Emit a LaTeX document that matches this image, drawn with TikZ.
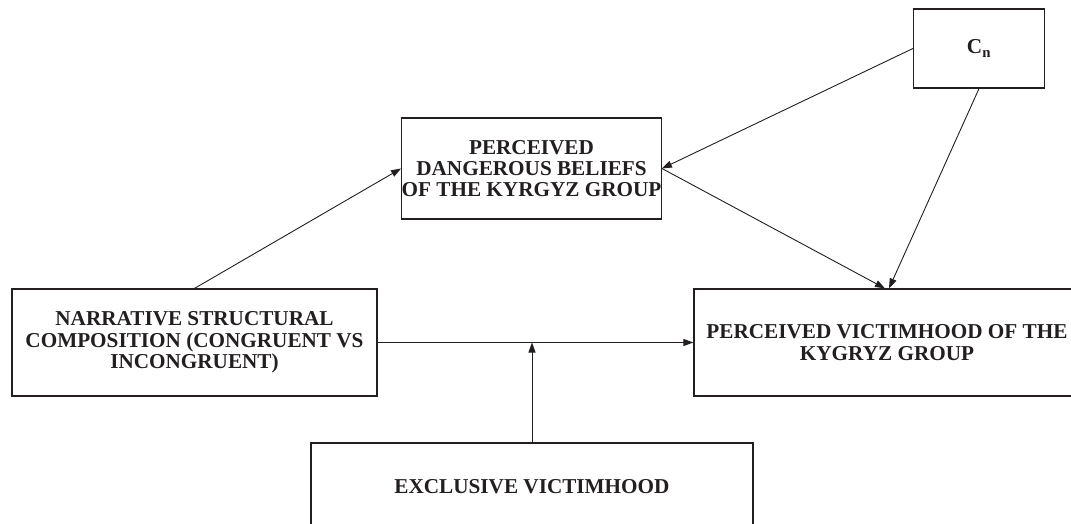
\documentclass[tikz,border=0pt]{standalone}
\usepackage{fontspec}
\setmainfont{Liberation Serif}
\usetikzlibrary{arrows.meta,positioning,calc}
\definecolor{pathink}{HTML}{231F20}
\tikzset{
  modelBox/.style={draw=pathink, line width=1.2pt, align=center, inner sep=0pt, font=\fontsize{21.2}{21.4}\selectfont\bfseries, text=pathink},
  pathArrow/.style={-{Triangle[length=10pt,width=7pt]}, line width=0.9pt, draw=pathink}
}
\begin{document}
\begin{tikzpicture}[x=1pt, y=-1pt]
  \useasboundingbox (0,0) rectangle (1071,524);
  \node[modelBox, minimum width=131pt, minimum height=79pt] (cn) at (979,48.5) {C\textsubscript{n}};
  \node[modelBox, minimum width=259pt, minimum height=101pt] (danger) at (531.5,168.5) {PERCEIVED\\ DANGEROUS BELIEFS\\ OF THE KYRGYZ GROUP};
  \node[modelBox, minimum width=365pt, minimum height=107pt] (narr) at (194.5,342.5) {NARRATIVE STRUCTURAL\\ COMPOSITION (CONGRUENT VS\\ INCONGRUENT)};
  \node[modelBox, minimum width=386pt, minimum height=107pt] (vict) at (887,342.5) {PERCEIVED VICTIMHOOD OF THE\\ KYGRYZ GROUP};
  \node[modelBox, minimum width=442pt, minimum height=88pt] (excl) at (532,487) {EXCLUSIVE VICTIMHOOD};

  \draw[pathArrow] (narr.north) -- (danger.west);
  \draw[pathArrow] (cn.west) -- (danger.east);
  \draw[pathArrow] (danger.east) -- ([xshift=-2pt]vict.north);
  \draw[pathArrow] (cn.south) -- ([xshift=2pt]vict.north);
  \draw[pathArrow] (narr.east) -- (vict.west);
  \draw[pathArrow] (excl.north) -- (excl.north |- narr.east);
\end{tikzpicture}
\end{document}
